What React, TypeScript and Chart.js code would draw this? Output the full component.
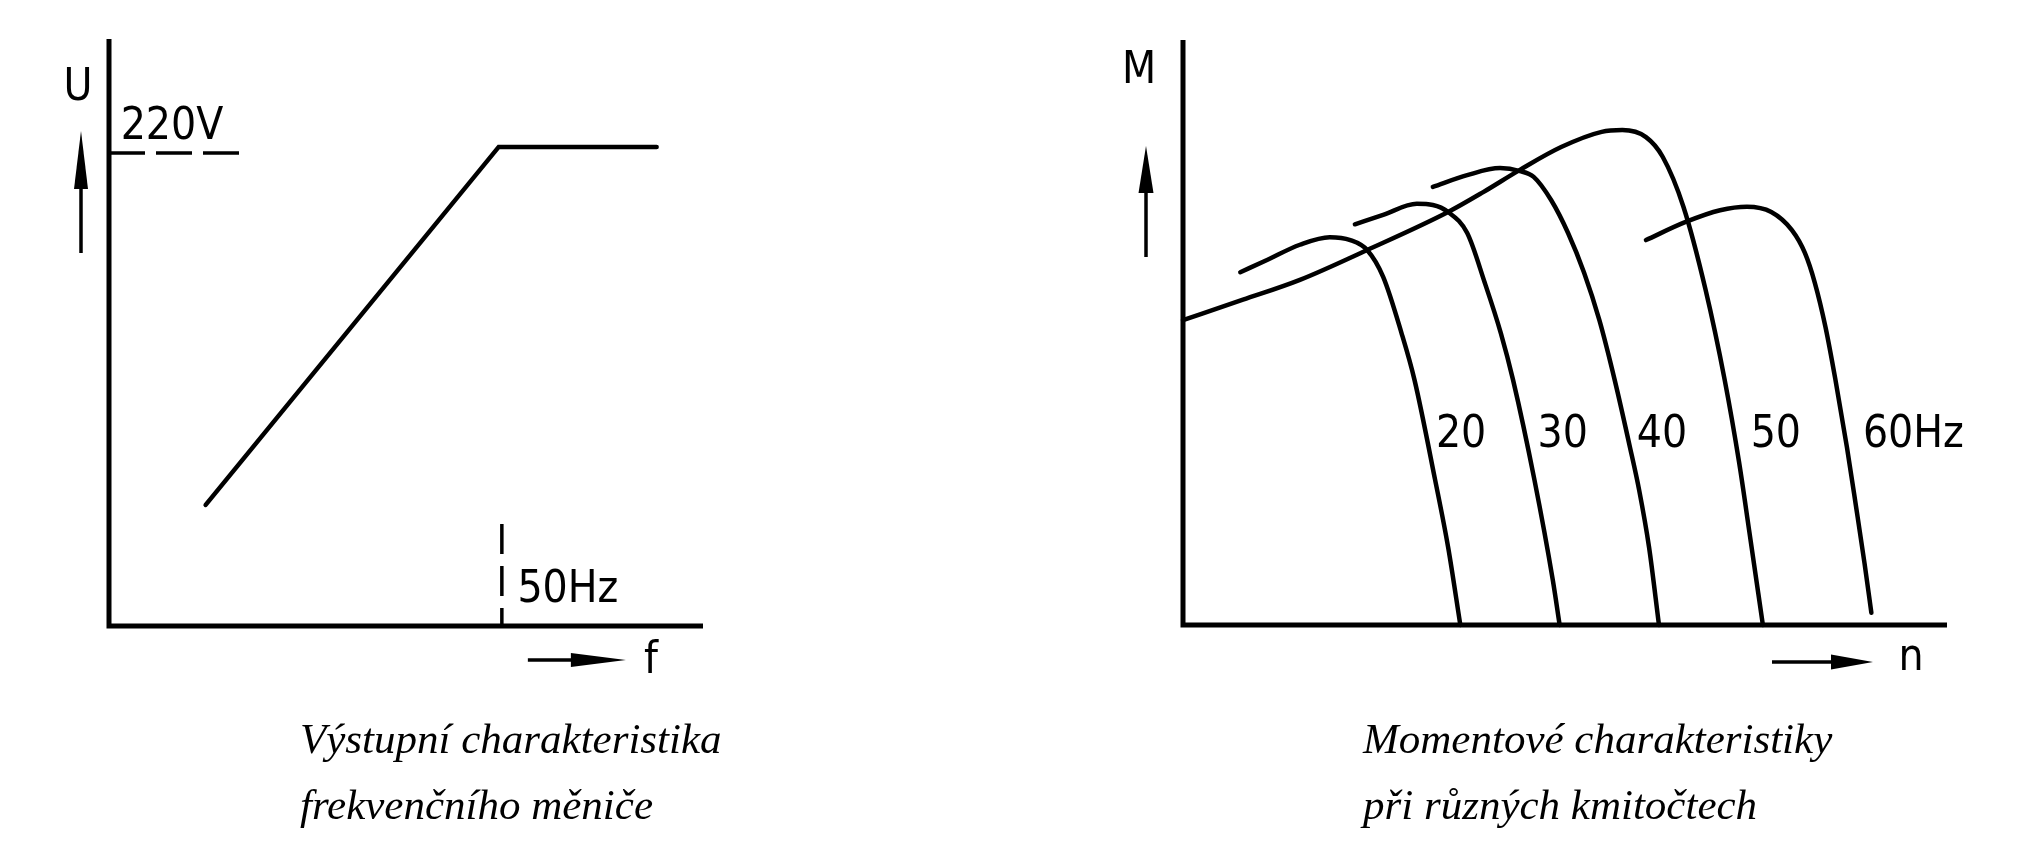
import React, { useEffect, useRef } from 'react';
import { Chart, registerables } from 'chart.js';

Chart.register(...registerables);

// ---------- Left chart: output characteristic of the frequency converter ----------
const outFreq = [12.3, 49.6, 69.7];      // f [Hz]
const outVolt = [56.3, 222.8, 222.8];    // U [V]
const ratedVolt = 220;                   // 220V reference level
const ratedFreq = 50;                    // 50Hz reference
const refVoltSpan = [0, 17];             // f range of the dashed 220V line
const refFreqSpan = [47.4, 0];           // U range of the dashed 50Hz line
const leftMaxF = 75.6;
const leftMaxU = 273;

// ---------- Right chart: torque characteristics M(n) ----------
const n20 = [7.5, 11.0, 15.3, 19.2, 21.9, 24.1, 26.2, 28.6, 30.3, 33.0, 34.7, 36.3];
const m20 = [60.3, 62.4, 65.0, 66.3, 65.8, 64.1, 59.5, 49.9, 41.9, 24.8, 13.3, 0];

const n30 = [22.5, 26.2, 30.6, 32.7, 34.7, 37.2, 39.5, 41.6, 43.2, 46.0, 48.4, 49.3];
const m30 = [68.5, 70.1, 72.0, 71.8, 70.6, 67.0, 58.5, 49.9, 41.9, 24.8, 7.7, 0];

const n40 = [32.7, 37.2, 41.5, 44.1, 45.9, 48.2, 50.4, 52.5, 54.5, 56.5, 58.5, 59.7, 61.0, 62.3];
const m40 = [74.9, 76.9, 78.1, 77.6, 76.6, 72.6, 67.0, 60.2, 52.1, 41.9, 30.4, 23.1, 13.3, 0];

const n50 = [0, 7.85, 15.3, 24.1, 34.7, 39.3, 44.1, 49.5, 54.8, 57.5, 60.6, 62.8, 65.5, 68.4, 70.9, 72.8, 74.1, 75.9];
const m50 = [52.1, 55.6, 59.0, 64.1, 70.6, 74.0, 77.8, 81.7, 84.3, 84.6, 83.4, 80.0, 71.5, 57.3, 41.9, 27.7, 16.2, 0];

const n60 = [60.6, 65.8, 70.3, 73.8, 77.0, 79.7, 81.4, 82.7, 84.1, 85.4, 86.9, 88.1, 89.2, 90.1];
const m60 = [65.8, 68.9, 70.9, 71.5, 70.6, 67.5, 63.6, 58.5, 50.9, 41.9, 30.4, 20.2, 10.6, 2.1];

const supplyLabels = ['20', '30', '40', '50', '60Hz'];
const rightMax = 100;

// ---------- drawing helpers ----------
const TECH_FONT = '44px "DejaVu Sans", "Liberation Sans", sans-serif';
const INK = '#000';

function techText(ctx: CanvasRenderingContext2D, text: string, x: number, baseline: number, align: CanvasTextAlign = 'center') {
  ctx.save();
  ctx.font = TECH_FONT;
  ctx.fillStyle = INK;
  ctx.textAlign = align;
  ctx.textBaseline = 'alphabetic';
  ctx.translate(x, baseline);
  ctx.scale(0.9, 1);
  ctx.fillText(text, 0, 0);
  ctx.restore();
}

function arrow(ctx: CanvasRenderingContext2D, x1: number, y1: number, x2: number, y2: number, headLen: number, headW: number) {
  const ang = Math.atan2(y2 - y1, x2 - x1);
  ctx.save();
  ctx.strokeStyle = INK;
  ctx.fillStyle = INK;
  ctx.lineWidth = 3.5;
  ctx.beginPath();
  ctx.moveTo(x1, y1);
  ctx.lineTo(x2 - Math.cos(ang) * headLen * 0.6, y2 - Math.sin(ang) * headLen * 0.6);
  ctx.stroke();
  ctx.translate(x2, y2);
  ctx.rotate(ang);
  ctx.beginPath();
  ctx.moveTo(0, 0);
  ctx.lineTo(-headLen, -headW / 2);
  ctx.lineTo(-headLen, headW / 2);
  ctx.closePath();
  ctx.fill();
  ctx.restore();
}

const axesPlugin = {
  id: 'axesL',
  beforeDatasetsDraw(chart: any) {
    const { ctx } = chart;
    const xs = chart.scales.x;
    const ys = chart.scales.y;
    const x0 = xs.getPixelForValue(xs.min);
    const x1 = xs.getPixelForValue(xs.max);
    const y0 = ys.getPixelForValue(ys.min);
    const y1 = ys.getPixelForValue(ys.max);
    ctx.save();
    ctx.strokeStyle = INK;
    ctx.lineWidth = 5;
    ctx.lineJoin = 'miter';
    ctx.beginPath();
    ctx.moveTo(x0, y1);
    ctx.lineTo(x0, y0);
    ctx.lineTo(x1, y0);
    ctx.stroke();
    ctx.restore();
  },
};

const leftNotes = {
  id: 'leftNotes',
  afterDraw(chart: any) {
    const { ctx } = chart;
    const xs = chart.scales.x;
    const ys = chart.scales.y;
    const ox = xs.getPixelForValue(0);
    const oy = ys.getPixelForValue(0);
    const top = ys.getPixelForValue(ys.max);
    const x50 = xs.getPixelForValue(ratedFreq);
    const y220 = ys.getPixelForValue(ratedVolt);
    techText(ctx, 'U', ox - 31, top + 61);
    arrow(ctx, ox - 28, top + 214, ox - 28, top + 92, 58, 14);
    techText(ctx, '220V', ox + 63, y220 - 14);
    techText(ctx, '50Hz', x50 + 66, oy - 24);
    arrow(ctx, x50 + 26, oy + 34, x50 + 124, oy + 34, 55, 14);
    techText(ctx, 'f', x50 + 149, oy + 47);
  },
};

const labelN = [36.4, 49.7, 62.7, 77.6, 95.6];
const labelM = 30.4;

const rightNotes = {
  id: 'rightNotes',
  afterDraw(chart: any) {
    const { ctx } = chart;
    const xs = chart.scales.x;
    const ys = chart.scales.y;
    const ox = xs.getPixelForValue(0);
    const oy = ys.getPixelForValue(0);
    const top = ys.getPixelForValue(ys.max);
    const xr = xs.getPixelForValue(xs.max);
    techText(ctx, 'M', ox - 44, top + 43);
    arrow(ctx, ox - 37, top + 217, ox - 37, top + 106, 47, 15);
    arrow(ctx, xr - 175, oy + 37, xr - 74, oy + 37, 42, 15);
    techText(ctx, 'n', xr - 36, oy + 45);
    const by = ys.getPixelForValue(labelM);
    supplyLabels.forEach((t, i) => techText(ctx, t, xs.getPixelForValue(labelN[i]), by));
  },
};

function pts(xs: number[], ys: number[]) {
  return xs.map((v, i) => ({ x: v, y: ys[i] }));
}

const curveStyle = {
  showLine: true,
  borderColor: INK,
  borderWidth: 4.5,
  pointRadius: 0,
  cubicInterpolationMode: 'monotone' as const,
  borderCapStyle: 'round' as const,
  borderJoinStyle: 'round' as const,
  clip: false as any,
};

function baseOptions(padding: any, xMax: number, yMax: number) {
  return {
    responsive: false,
    maintainAspectRatio: false,
    animation: false as const,
    devicePixelRatio: 1,
    layout: { padding },
    plugins: { legend: { display: false }, tooltip: { enabled: false }, title: { display: false } },
    scales: {
      x: { type: 'linear' as const, min: 0, max: xMax, display: false },
      y: { type: 'linear' as const, min: 0, max: yMax, display: false },
    },
  };
}

export default function App() {
  const leftRef = useRef<HTMLCanvasElement>(null);
  const rightRef = useRef<HTMLCanvasElement>(null);

  useEffect(() => {
    const left = new Chart(leftRef.current as HTMLCanvasElement, {
      type: 'scatter',
      data: {
        datasets: [
          { ...curveStyle, cubicInterpolationMode: 'default', tension: 0, borderJoinStyle: 'miter', data: pts(outFreq, outVolt) },
          {
            showLine: true, borderColor: INK, borderWidth: 3.5, pointRadius: 0, borderDash: [36, 11], clip: false as any,
            data: pts(refVoltSpan, [ratedVolt, ratedVolt]),
          },
          {
            showLine: true, borderColor: INK, borderWidth: 3.5, pointRadius: 0, borderDash: [30, 12], clip: false as any,
            data: pts([ratedFreq, ratedFreq], refFreqSpan),
          },
        ] as any,
      },
      options: baseOptions({ left: 109, right: 317, top: 39, bottom: 222 }, leftMaxF, leftMaxU) as any,
      plugins: [axesPlugin, leftNotes],
    });

    const right = new Chart(rightRef.current as HTMLCanvasElement, {
      type: 'scatter',
      data: {
        datasets: [
          { ...curveStyle, data: pts(n20, m20) },
          { ...curveStyle, data: pts(n30, m30) },
          { ...curveStyle, data: pts(n40, m40) },
          { ...curveStyle, data: pts(n50, m50) },
          { ...curveStyle, data: pts(n60, m60) },
        ] as any,
      },
      options: baseOptions({ left: 163, right: 93, top: 40, bottom: 223 }, rightMax, rightMax) as any,
      plugins: [axesPlugin, rightNotes],
    });

    return () => {
      left.destroy();
      right.destroy();
    };
  }, []);

  const caption = (left: number): React.CSSProperties => ({
    position: 'absolute',
    left,
    top: 706,
    fontFamily: '"Liberation Serif", "Times New Roman", serif',
    fontStyle: 'italic',
    fontSize: 43,
    lineHeight: '66px',
    color: INK,
    whiteSpace: 'nowrap',
  });

  return (
    <div style={{ position: 'fixed', left: 0, top: 0, width: 2040, height: 848, background: '#fff', overflow: 'hidden' }}>
      <canvas ref={leftRef} width={1020} height={848} style={{ position: 'absolute', left: 0, top: 0, width: 1020, height: 848 }} />
      <canvas ref={rightRef} width={1020} height={848} style={{ position: 'absolute', left: 1020, top: 0, width: 1020, height: 848 }} />
      <div style={caption(300)}>Výstupní charakteristika<br />frekvenčního měniče</div>
      <div style={caption(1363)}>Momentové charakteristiky<br />při různých kmitočtech</div>
    </div>
  );
}
